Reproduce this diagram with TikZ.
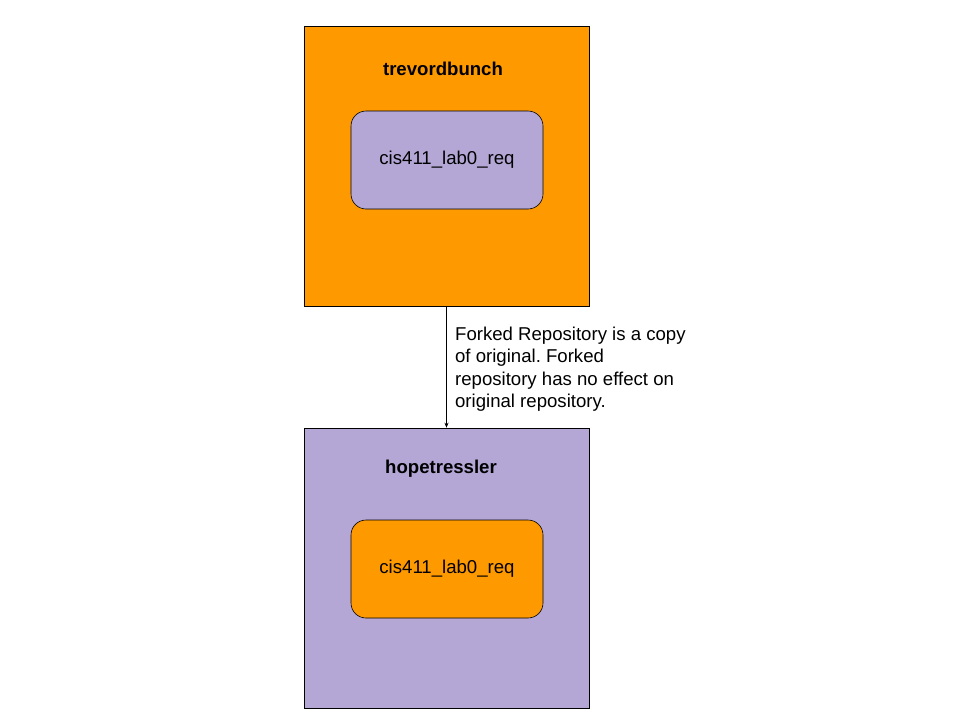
\documentclass[tikz,border=0pt]{standalone}
\usepackage{fontspec}
\setmainfont{Liberation Sans}
\usepackage{xcolor}
\usetikzlibrary{positioning, arrows.meta}
\definecolor{orgbox}{HTML}{FF9900}
\definecolor{lilac}{HTML}{B4A7D6}
\frenchspacing

\begin{document}
\begin{tikzpicture}[x=1pt,y=-1pt,>={Stealth[length=5pt,width=4pt]},
  acct/.style={draw, line width=0.6pt, minimum width=285pt, minimum height=280pt},
  repo/.style={draw, line width=0.6pt, rounded corners=15pt, minimum width=192pt, minimum height=98pt, font=\fontsize{18.6}{22}\selectfont},
  owner/.style={font=\fontsize{18.6}{22}\selectfont\bfseries}]
\useasboundingbox (0,0) rectangle (960,720);
\node (trevor) [acct, fill=orgbox] at (446.5,166){};
\node (trevorname) [owner] at (443,69){trevordbunch};
\node (trevorrepo) [repo, fill=lilac] at (447,160){cis411\_lab0\_req};
\node (hope) [acct, fill=lilac] at (446.5,568){};
\node (hopename) [owner] at (441,469){hopetressler};
\node (hoperepo) [repo, fill=orgbox] at (447,569){cis411\_lab0\_req};
\draw [->, line width=0.6pt] (trevor)--node[right=5pt, yshift=-2pt, align=left, font=\fontsize{18.6}{22.5}\selectfont]{Forked Repository is a copy\\of original. Forked\\repository has no effect on\\original repository.}(hope);
\end{tikzpicture}
\end{document}
